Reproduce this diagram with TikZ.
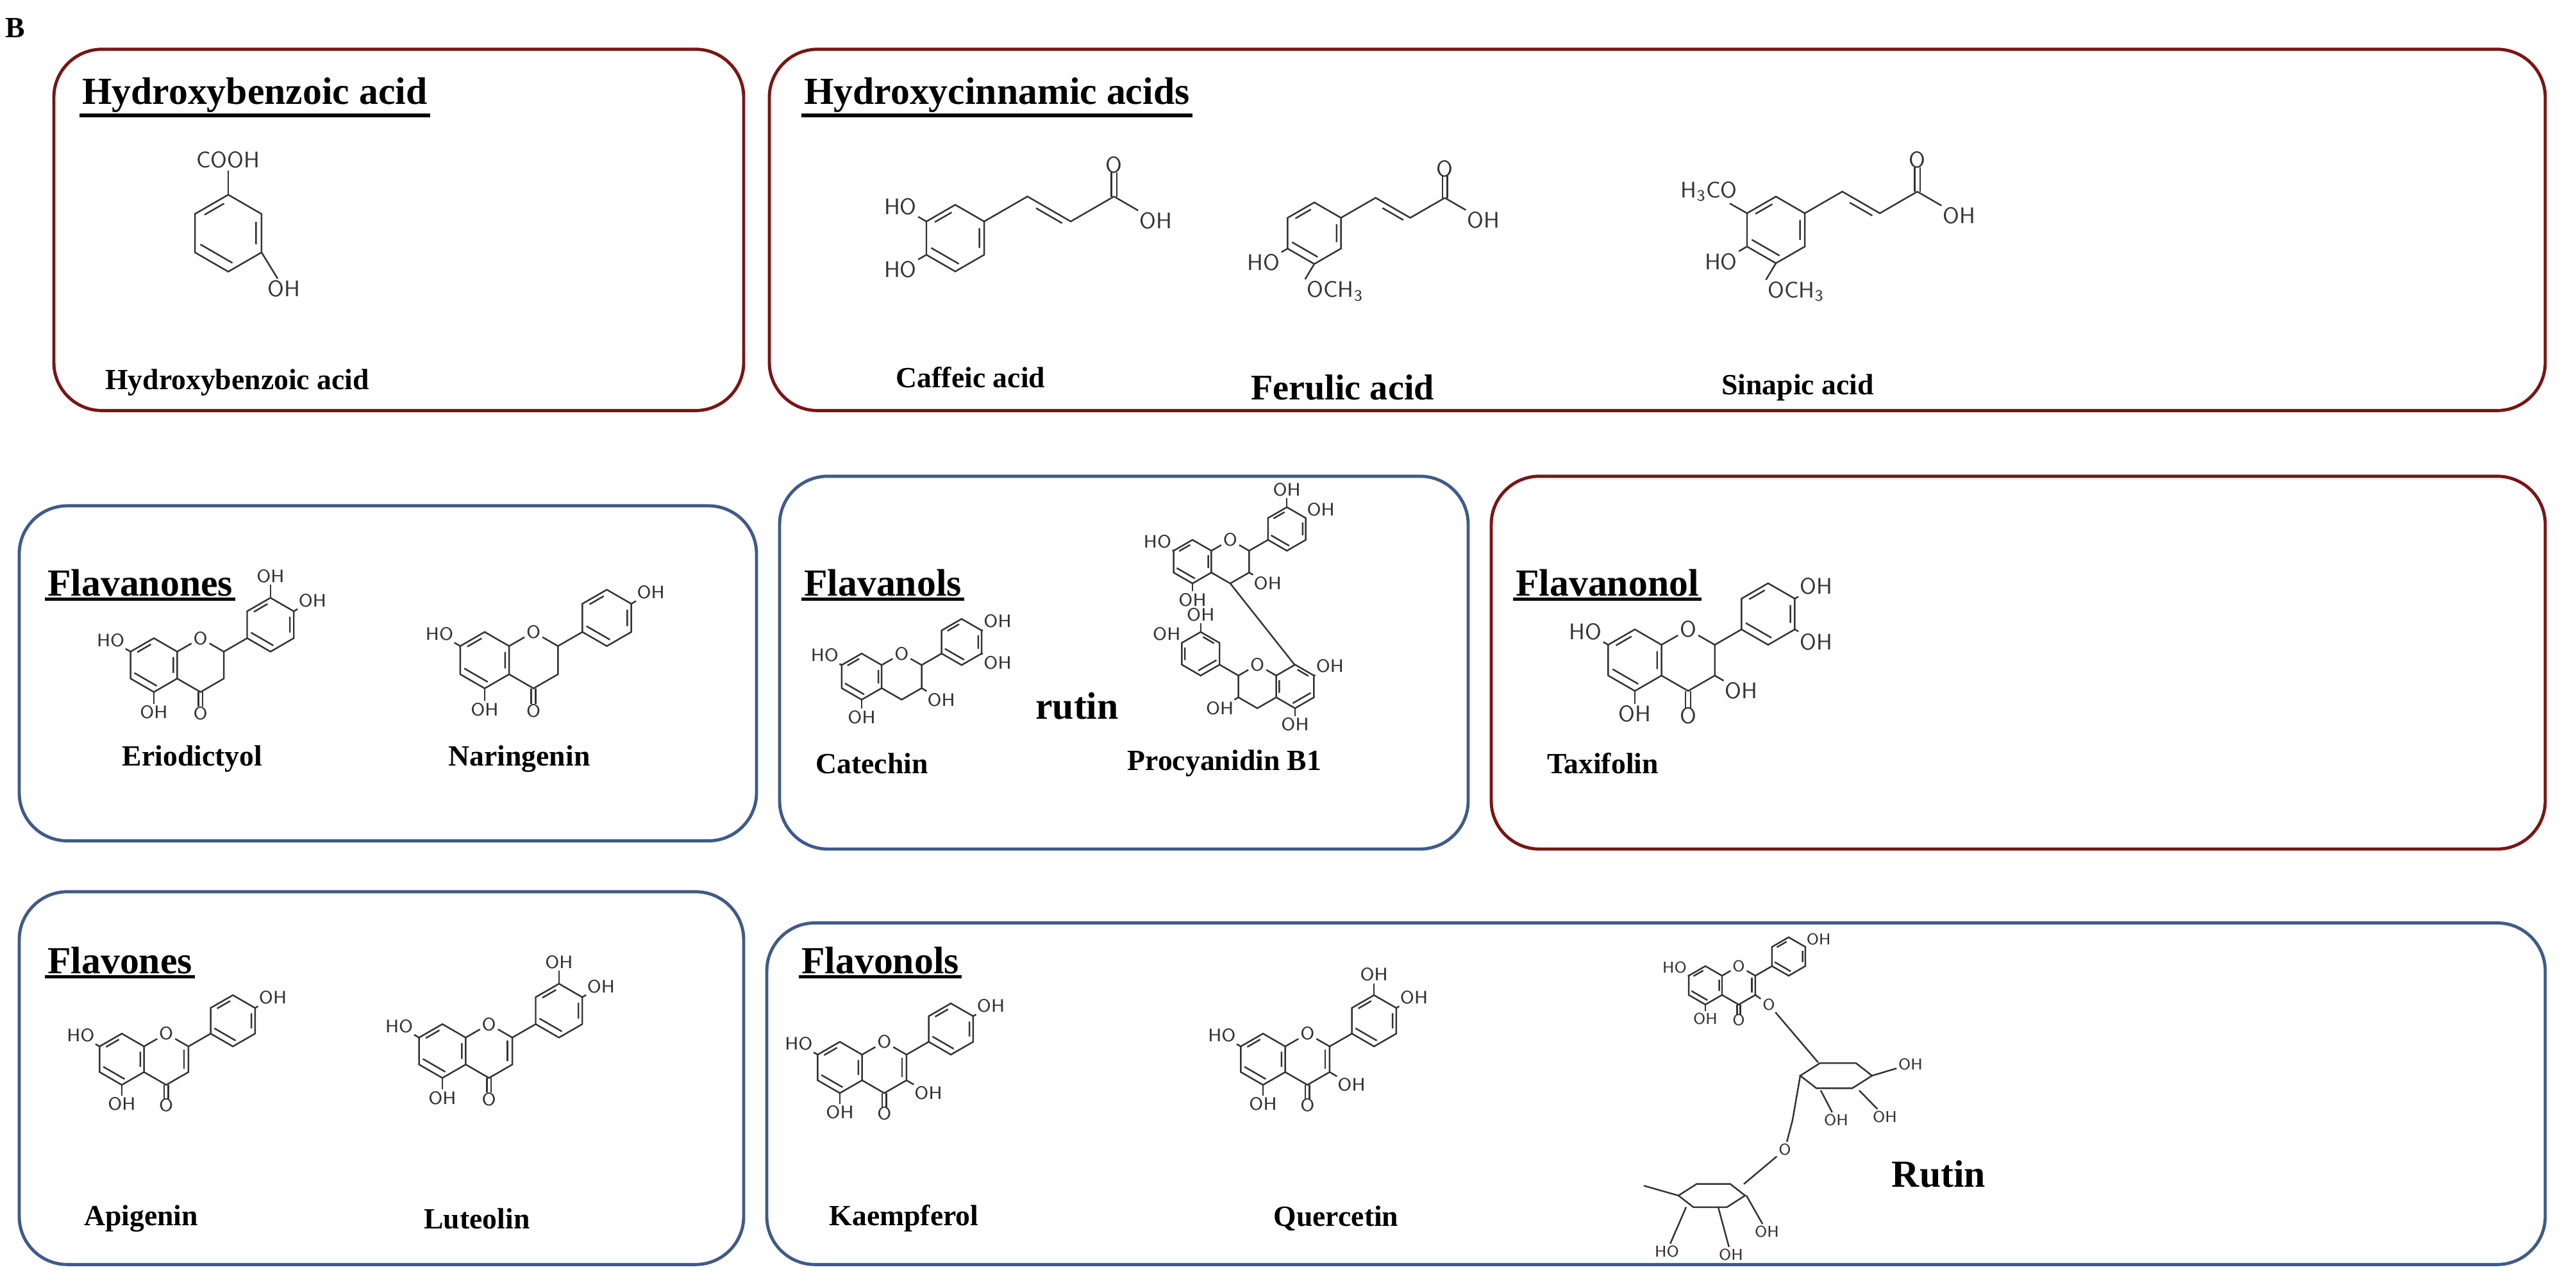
\documentclass[tikz,border=0pt]{standalone}
\usepackage{fontspec}
\setmainfont{Liberation Serif}
\usetikzlibrary{calc}
\definecolor{boxred}{HTML}{7A1515}
\definecolor{boxblue}{HTML}{3F5A8A}
\def\molfs{8}
\def\cb{1.3}
\tikzset{
  box/.style={rounded corners=0.75cm, line width=1.4pt},
  redbox/.style={box, draw=boxred},
  bluebox/.style={box, draw=boxblue},
  ttl/.style={font=\fontsize{17}{19}\selectfont\bfseries, inner sep=1pt, anchor=west},
  cname/.style={font=\fontsize{13}{15}\selectfont\bfseries},
  lbl/.style={font=\sffamily\fontsize{\molfs}{\molfs}\selectfont, inner sep=0.5pt},
  bond/.style={line width=0.7pt, black!80},
  mol/.style={xscale=#1, yscale=0.7806*#1, bond}
}
% rings, side = 1
\newcommand\hexa{\draw (90:1)--(30:1)--(-30:1)--(-90:1)--(-150:1)--(150:1)--cycle;
  \draw (22:0.78)--(-22:0.78) (-82:0.78)--(-158:0.78) (142:0.78)--(98:0.78);}
\newcommand\sugar{\draw (-1,0)--(-0.45,0.35)--(0.55,0.35)--(1,0)--(0.45,-0.35)--(-0.55,-0.35)--cycle;}
% flavonoid building blocks
\newcommand\Aring{\hexa \node[lbl] (ho7) at (150:1.85) {HO}; \draw (150:1)--(ho7);
  \node[lbl] (oh5) at (-90:1.75) {OH}; \draw (-90:1)--(oh5);}
\newcommand\Cring{\node[lbl] (oc) at (1.732,1) {O};
  \draw (0.866,0.5)--(oc)--(2.598,0.5)--(2.598,-0.5)--(1.732,-1)--(0.866,-0.5);}
\newcommand\keto{\node[lbl] (ok) at (1.732,-1.8) {O};
  \draw (1.65,-1)--(1.65,-1.55) (1.81,-1)--(1.81,-1.55);}
\newcommand\ene{\draw (2.42,0.38)--(2.42,-0.38);}
\newcommand\ohthree{\node[lbl] (o3) at (3.45,-1.0) {OH}; \draw (2.598,-0.5)--(o3);}
\newcommand\Bring[1]{\draw (2.598,0.5)--(3.464,1);
  \begin{scope}[shift={(4.33,1.5)}] \hexa
  \foreach \a in {#1}{\node[lbl] (bo) at (\a:1.8) {OH}; \draw (\a:1)--(bo);}
  \end{scope}}
% cinnamic side chain from ring vertex 30
\newcommand\chain{\draw (30:1) -- ++(30:\cb) coordinate (c1) -- ++(-30:\cb) coordinate (c2) -- ++(30:\cb) coordinate (c3);
  \draw ($(c1)!0.2!(c2)+(0,-0.2)$) -- ($(c2)!0.2!(c1)+(0,-0.2)$);
  \node[lbl] (co) at ($(c3)+(0,0.95)$) {O};
  \draw ($(c3)+(-0.08,0)$) -- ($(c3)+(-0.08,0.72)$) ($(c3)+(0.08,0)$) -- ($(c3)+(0.08,0.72)$);
  \node[lbl] (coh) at ($(c3)+(-30:1.45)$) {OH}; \draw (c3)--(coh);}
\begin{document}
\begin{tikzpicture}[x=0.02cm, y=0.02562cm]
\useasboundingbox (0,0) rectangle (2009,-780);
\node[font=\fontsize{13}{15}\selectfont\bfseries] (lab) at (12,-17) {B};

% boxes
\draw[redbox] (42,-30) rectangle (580,-250);
\draw[redbox] (600,-30) rectangle (1985,-250);
\draw[bluebox] (15,-308) rectangle (590,-512);
\draw[bluebox] (608,-290) rectangle (1145,-517);
\draw[redbox] (1163,-290) rectangle (1985,-517);
\draw[bluebox] (15,-543) rectangle (580,-770);
\draw[bluebox] (598,-562) rectangle (1985,-770);

% titles
\foreach \n/\p/\t in {t1/{62,-58}/Hydroxybenzoic acid, t2/{625,-58}/Hydroxycinnamic acids,
  t3/{35,-355}/Flavanones, t4/{625,-355}/Flavanols, t5/{1180,-355}/Flavanonol,
  t6/{35,-585}/Flavones, t7/{623,-585}/Flavonols}{
  \node[ttl] (\n) at (\p) {\t};
  \draw[line width=1.6pt] (\n.south west) -- (\n.south east);
}

% compound names
\node[cname] (n1) at (185,-233) {Hydroxybenzoic acid};
\node[cname] (n2) at (757,-230) {Caffeic acid};
\node[cname, font=\fontsize{16}{18}\selectfont\bfseries] (n3) at (1047,-236) {Ferulic acid};
\node[cname] (n4) at (1402,-236) {Sinapic acid};
\node[cname] (n5) at (150,-462) {Eriodictyol};
\node[cname] (n6) at (405,-462) {Naringenin};
\node[cname] (n7) at (680,-465) {Catechin};
\node[cname, font=\fontsize{17}{19}\selectfont\bfseries] (n8) at (840,-430) {rutin};
\node[cname] (n9) at (955,-465) {Procyanidin B1};
\node[cname] (n10) at (1250,-465) {Taxifolin};
\node[cname] (n11) at (110,-742) {Apigenin};
\node[cname] (n12) at (372,-742) {Luteolin};
\node[cname] (n13) at (705,-742) {Kaempferol};
\node[cname] (n14) at (1042,-742) {Quercetin};
\node[cname, font=\fontsize{17}{19}\selectfont\bfseries] (n15) at (1512,-715) {Rutin};

% hydroxybenzoic acid
\def\molfs{10}
\begin{scope}[shift={(178,-142)}, mol=30]
  \hexa
  \node[lbl] (cooh) at (90:1.9) {COOH}; \draw (90:1)--(cooh);
  \node[lbl] (oh) at (1.45,-1.45) {OH}; \draw (-30:1)--(oh);
\end{scope}
% caffeic acid
\def\cb{1.5}
\begin{scope}[shift={(745,-145)}, mol=26]
  \hexa
  \node[lbl] (h1) at (150:1.9) {HO}; \draw (150:1)--(h1);
  \node[lbl] (h2) at (-150:1.9) {HO}; \draw (-150:1)--(h2);
  \chain
\end{scope}
\def\cb{1.3}
% ferulic acid
\begin{scope}[shift={(1025,-142)}, mol=24]
  \hexa
  \node[lbl] (h1) at (-150:1.9) {HO}; \draw (-150:1)--(h1);
  \node[lbl, anchor=north west] (m1) at (-0.3,-1.5) {OCH\textsubscript{3}}; \draw (-90:1)--(m1.north west);
  \chain
\end{scope}
% sinapic acid
\begin{scope}[shift={(1385,-140)}, mol=26]
  \hexa
  \node[lbl, anchor=east] (m2) at (-1.1,1.15) {H\textsubscript{3}CO}; \draw (150:1)--(m2);
  \node[lbl] (h1) at (-150:1.9) {HO}; \draw (-150:1)--(h1);
  \node[lbl, anchor=north west] (m1) at (-0.3,-1.5) {OCH\textsubscript{3}}; \draw (-90:1)--(m1.north west);
  \chain
\end{scope}

\def\molfs{8}
% eriodictyol
\begin{scope}[shift={(120,-405)}, mol=21]
  \Aring \Cring \keto \Bring{30,90}
\end{scope}
% naringenin
\begin{scope}[shift={(378,-402)}, mol=22]
  \Aring \Cring \keto \Bring{30}
\end{scope}
% catechin
\begin{scope}[shift={(672,-412)}, mol=18]
  \Aring \Cring \ohthree \Bring{30,-30}
\end{scope}
% procyanidin B1
\begin{scope}[shift={(930,-342)}, mol=17]
  \Aring \Cring \ohthree \Bring{30,90}
  \draw (1.732,-1)--(4.7,-4.75);
\end{scope}
\begin{scope}[shift={(1010,-418)}, mol=17, xscale=-1]
  \hexa
  \node[lbl] (ho7) at (150:1.85) {OH}; \draw (150:1)--(ho7);
  \node[lbl] (oh5) at (-90:1.75) {OH}; \draw (-90:1)--(oh5);
  \Cring \ohthree \Bring{30,90}
\end{scope}
% taxifolin
\def\molfs{10}
\begin{scope}[shift={(1275,-402)}, mol=24]
  \Aring \Cring \keto \ohthree \Bring{30,-30}
\end{scope}
\def\molfs{8}
% apigenin
\begin{scope}[shift={(95,-645)}, mol=20]
  \Aring \Cring \keto \ene \Bring{30}
\end{scope}
% luteolin
\begin{scope}[shift={(345,-640)}, mol=21]
  \Aring \Cring \keto \ene \Bring{30,90}
\end{scope}
% kaempferol
\begin{scope}[shift={(655,-650)}, mol=20]
  \Aring \Cring \keto \ene \ohthree \Bring{30}
\end{scope}
% quercetin
\begin{scope}[shift={(985,-645)}, mol=20]
  \Aring \Cring \keto \ene \ohthree \Bring{30,90}
\end{scope}
% rutin
\def\molfs{7}
\begin{scope}[shift={(1330,-600)}, mol=15]
  \Aring \Cring \keto \ene \Bring{30}
  \node[lbl] (o3g) at (3.3,-1.0) {O}; \draw (2.598,-0.5)--(o3g);
\end{scope}
\begin{scope}[bond]
  \begin{scope}[shift={(1432,-655)}, mol=28] \sugar \end{scope}
  \draw (o3g) -- (1418,-647);
  \node[lbl] (g1) at (1490,-648) {OH}; \draw (1460,-655)--(g1);
  \node[lbl] (g2) at (1470,-680) {OH}; \draw (1450,-664)--(g2);
  \node[lbl] (g3) at (1432,-682) {OH}; \draw (1420,-664)--(g3);
  \node[lbl] (og) at (1392,-700) {O}; \draw (1404,-655)--(1398,-682)--(og);
  \begin{scope}[shift={(1335,-728)}, mol=26] \sugar \end{scope}
  \draw (og) -- (1360,-721);
  \node[lbl] (r1) at (1378,-750) {OH}; \draw (1362,-728)--(r1);
  \node[lbl] (r2) at (1350,-764) {OH}; \draw (1340,-735)--(r2);
  \node[lbl] (r3) at (1300,-762) {HO}; \draw (1315,-735)--(r3);
  \draw (1309,-728)--(1282,-722);
\end{scope}
\end{tikzpicture}
\end{document}
